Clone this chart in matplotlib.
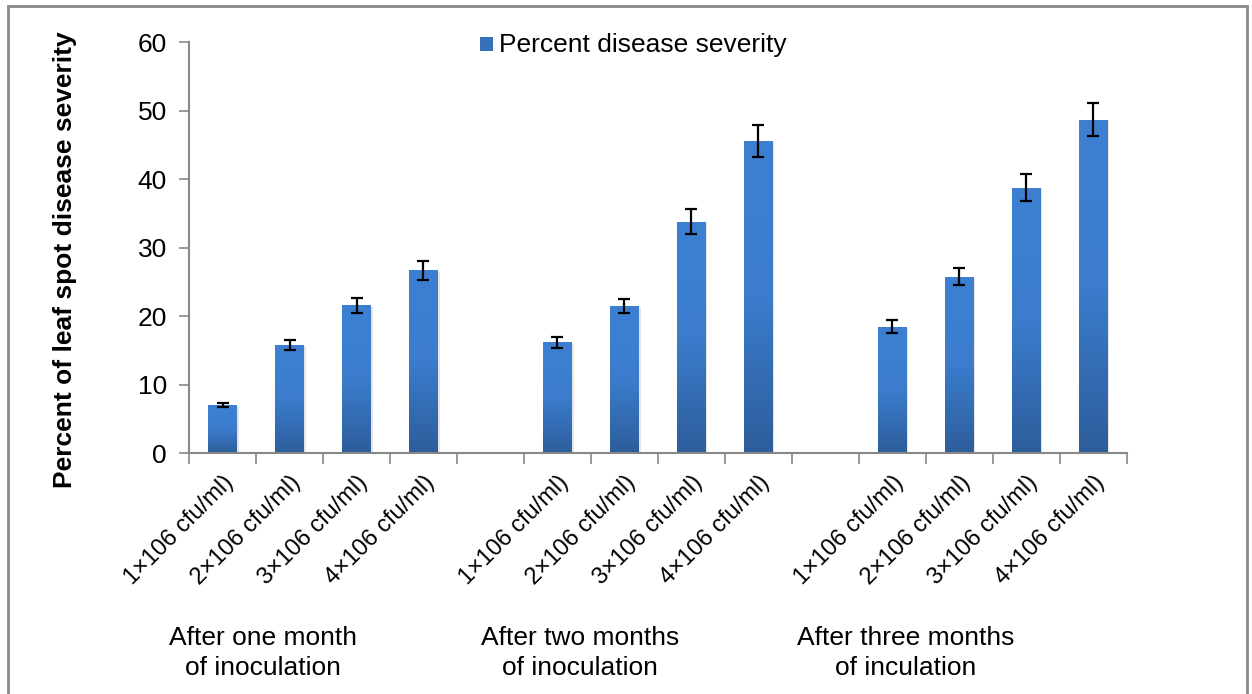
import numpy as np
import matplotlib
matplotlib.use("Agg")
from matplotlib import pyplot as plt
from matplotlib.patches import Rectangle
from matplotlib.colors import LinearSegmentedColormap

plt.rcParams['font.family'] = ['Liberation Sans', 'DejaVu Sans']

conc_labels = ["1×106 cfu/ml)", "2×106 cfu/ml)", "3×106 cfu/ml)", "4×106 cfu/ml)"]
group_labels = ["After one month\nof inoculation",
                "After two months\nof inoculation",
                "After three months\nof inculation"]
month1 = [7.0, 15.8, 21.6, 26.7]
month2 = [16.2, 21.5, 33.8, 45.6]
month3 = [18.5, 25.8, 38.8, 48.7]
err1 = [0.3, 0.75, 1.1, 1.35]
err2 = [0.8, 1.05, 1.8, 2.3]
err3 = [0.9, 1.3, 2.0, 2.4]
series_name = "Percent disease severity"

values = [month1, month2, month3]
errors = [err1, err2, err3]

fig = plt.figure(figsize=(12.52, 6.94), dpi=100)
ax = fig.add_axes([0.151, 0.347, 0.749, 0.592])

grad = LinearSegmentedColormap.from_list("bar", ["#2d5e9c", "#3b7ccd", "#3d80d2"])
width = 0.42
pos, labels = [], []
for g in range(3):
    for i in range(4):
        x = g * 5 + i + 0.5
        v = values[g][i]
        # soft shadow
        ax.add_patch(Rectangle((x - width / 2 + 0.03, 0), width, v - 0.2,
                               facecolor="#000000", alpha=0.10, lw=0, zorder=1))
        bar = Rectangle((x - width / 2, 0), width, v, facecolor="none", lw=0, zorder=2)
        ax.add_patch(bar)
        im = ax.imshow(np.linspace(0, 1, 100).reshape(-1, 1), cmap=grad, aspect="auto",
                       extent=[x - width / 2, x + width / 2, 0, v], origin="lower", zorder=2)
        im.set_clip_path(bar)
        ax.errorbar(x, v, yerr=errors[g][i], fmt="none", ecolor="black",
                    elinewidth=1.6, capsize=4.5, capthick=1.6, zorder=3)
        pos.append(x)
        labels.append(conc_labels[i])

ax.set_xlim(0, 14)
ax.set_ylim(0, 60)
ax.set_yticks(range(0, 61, 10))
ax.tick_params(axis="y", labelsize=19, length=7, width=1.2, color="#888888", pad=9)
ax.set_xticks(pos)
ax.set_xticklabels(labels, rotation=45, ha="right", rotation_mode="anchor", fontsize=17)
ax.tick_params(axis="x", which="major", length=0, pad=13)
ax.set_xticks(np.arange(0, 15), minor=True)
ax.tick_params(axis="x", which="minor", length=8, width=1.2, color="#888888")
for s in ["top", "right"]:
    ax.spines[s].set_visible(False)
for s in ["left", "bottom"]:
    ax.spines[s].set_color("#888888")
    ax.spines[s].set_linewidth(1.5)

fig.text(65 / 1252, 1 - 260 / 694, "Percent of leaf spot disease severity", rotation=90,
         ha="center", va="center", fontsize=19, fontweight="bold")

# legend
fig.add_artist(Rectangle((480 / 1252, 1 - 51 / 694), 13 / 1252, 14 / 694,
                         transform=fig.transFigure, facecolor="#3670b8", lw=0))
fig.text(499 / 1252, 1 - 45 / 694, series_name, fontsize=19, va="center")

group_x = [263, 580, 906]
for gx, gl in zip(group_x, group_labels):
    fig.text(gx / 1252, 1 - 653 / 694, gl, ha="center", va="center", fontsize=19,
             linespacing=1.3)

fig.add_artist(Rectangle((8 / 1252, -0.01), 1239 / 1252, 1 - 6 / 694 + 0.01,
                         transform=fig.transFigure, fill=False, edgecolor="#888888", lw=2))

fig.savefig("out.png", dpi=100)
